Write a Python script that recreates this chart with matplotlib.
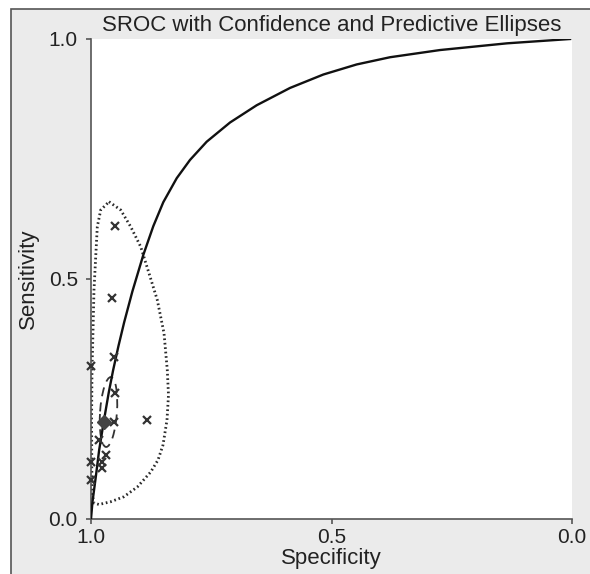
import numpy as np
import matplotlib
matplotlib.use('Agg')
import matplotlib.pyplot as plt
from matplotlib.patches import Ellipse, Polygon, Rectangle

plt.rcParams['font.family'] = ['Liberation Sans', 'DejaVu Sans']

# study points (specificity, sensitivity)
study_spec = [0.950, 0.956, 0.952, 0.999, 0.951, 0.883, 0.952, 0.983, 0.969, 0.977, 0.977, 0.999, 0.999]
study_sens = [0.611, 0.460, 0.338, 0.319, 0.263, 0.206, 0.203, 0.165, 0.133, 0.119, 0.106, 0.119, 0.081]

# summary operating point
summary_spec = 0.973
summary_sens = 0.203

# SROC curve, traced
sroc_spec = [1.000, 0.997, 0.990, 0.983, 0.973, 0.963, 0.954, 0.943, 0.931, 0.914, 0.8913,
             0.8705, 0.8497, 0.8218, 0.7942, 0.7595, 0.711, 0.6555, 0.5863, 0.517, 0.4476,
             0.3784, 0.2744, 0.135, 0.004]
sroc_sens = [0.000, 0.035, 0.088, 0.144, 0.206, 0.264, 0.310, 0.360, 0.410, 0.474, 0.550,
             0.610, 0.660, 0.710, 0.748, 0.786, 0.826, 0.862, 0.898, 0.926, 0.947,
             0.962, 0.977, 0.991, 1.000]

# predictive region outline, traced
pred_spec = [0.9626, 0.9383, 0.9175, 0.8967, 0.8794, 0.8622, 0.8482, 0.8414, 0.8389, 0.8420,
             0.8503, 0.8607, 0.8759, 0.9037, 0.9314, 0.9590, 0.9834, 0.9938, 0.9973, 0.9983,
             0.9988, 0.9979, 0.9958, 0.9938, 0.9902, 0.9869, 0.9798]
pred_sens = [0.6610, 0.6438, 0.6090, 0.5673, 0.5119, 0.4563, 0.3869, 0.3104, 0.2583, 0.2063,
             0.1542, 0.1229, 0.0979, 0.0667, 0.0465, 0.0360, 0.0302, 0.0333, 0.0500, 0.1021,
             0.2063, 0.3104, 0.3938, 0.4771, 0.5465, 0.6090, 0.6438]

# confidence ellipse (centre, axes, angle)
conf_centre = (0.9636, 0.2229)
conf_major = 0.146
conf_minor = 0.035
conf_angle = 94

fig = plt.figure(figsize=(5.9, 5.74), dpi=100, facecolor='white')
# grey panel with frame line on left and top
fig.patches.append(Rectangle((11 / 590, -0.1), 1.2, (574 - 9) / 574 + 0.1,
                             transform=fig.transFigure, facecolor='#ebebeb',
                             edgecolor='#555555', linewidth=1.2, zorder=-10))

ax = fig.add_axes([91 / 590, 55 / 574, 481 / 590, 480 / 574])
ax.set_facecolor('white')

ax.plot(sroc_spec, sroc_sens, color='#111111', lw=1.7, zorder=3)

ax.add_patch(Polygon(list(zip(pred_spec, pred_sens)), closed=True, fill=False,
                     edgecolor='#2a2a2a', lw=2.0, linestyle=(0, (0.6, 1.0)), zorder=2))
ax.add_patch(Ellipse(conf_centre, conf_major, conf_minor, angle=conf_angle, fill=False,
                     edgecolor='#333333', lw=1.3, linestyle=(0, (5, 3.5)), zorder=2))

ax.plot(study_spec, study_sens, 'x', color='#333333', ms=6, mew=1.6, zorder=4, clip_on=False)
ax.plot([summary_spec], [summary_sens], 'D', color='#444444', ms=7, zorder=5)

ax.set_xlim(1.0, 0.0)
ax.set_ylim(0.0, 1.0)
ax.set_xticks([1.0, 0.5, 0.0])
ax.set_yticks([0.0, 0.5, 1.0])
ax.set_xticklabels(['1.0', '0.5', '0.0'])
ax.set_yticklabels(['0.0', '0.5', '1.0'])

for s in ['top', 'right']:
    ax.spines[s].set_visible(False)
for s in ['left', 'bottom']:
    ax.spines[s].set_color('#555555')
    ax.spines[s].set_linewidth(1.2)
ax.tick_params(direction='out', length=3.5, width=1.2, color='#555555',
               labelsize=15, labelcolor='#222222')
ax.tick_params(axis='x', pad=3)
ax.tick_params(axis='y', pad=6)

ax.set_xlabel('Specificity', fontsize=16, color='#222222', labelpad=1)
ax.set_ylabel('Sensitivity', fontsize=16, color='#222222', labelpad=7)
ax.set_title('SROC with Confidence and Predictive Ellipses', fontsize=16,
             color='#222222', pad=6)

fig.savefig('out.png', dpi=100, facecolor=fig.get_facecolor())
